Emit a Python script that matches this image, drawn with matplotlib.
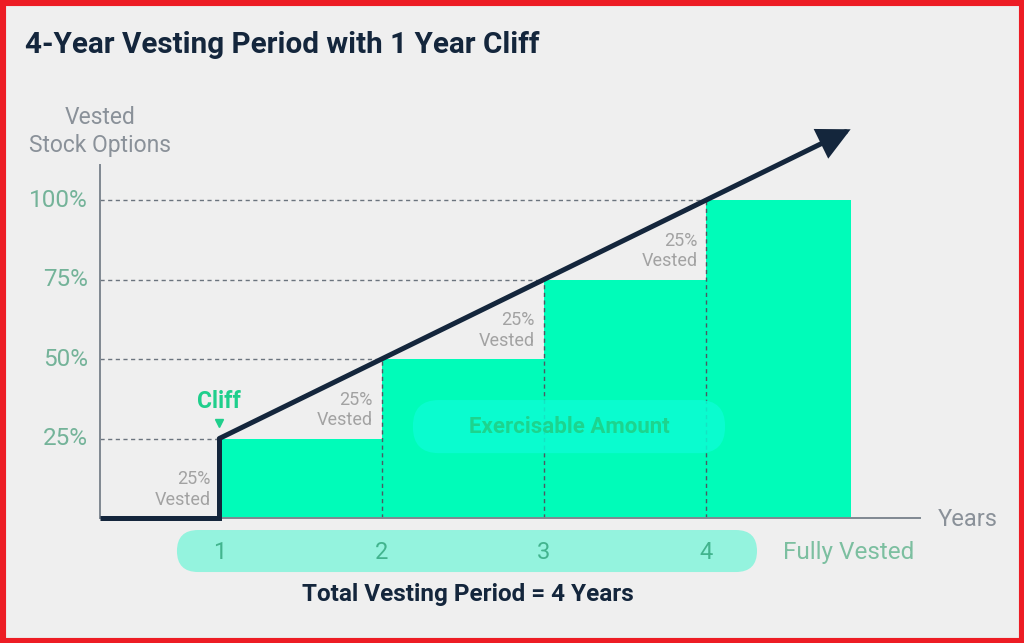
import numpy as np
import matplotlib.pyplot as plt
from matplotlib.patches import FancyBboxPatch, Rectangle

plt.rcParams['font.family'] = ['Roboto', 'DejaVu Sans']

# data
years = [1, 2, 3, 4]
vested_pct = [25, 50, 75, 100]
tick_labels = ['25%', '50%', '75%', '100%']
step_label = '25%\nVested'
chart_end = 4.89          # right edge of the last bar / arrow tip (years)
axis_start = 0.265        # where the axes begin (years)

NAVY = '#14263c'
GREEN = '#00fcb9'
BG = '#efefef'

fig = plt.figure(figsize=(10.24, 6.43), dpi=100, facecolor=BG)
ax = fig.add_axes([0, 0, 1, 1])
ax.set_facecolor(BG)
ax.set_xlim(-0.3512, 5.958)
ax.set_ylim(-39.3, 162.9)
ax.axis('off')

# px per data unit, for rounded boxes
sx = 162.3
sy = 3.18
aspect = sx / sy

# bars
edges = years + [chart_end]
widths = np.diff(edges)
ax.bar(years, vested_pct, width=widths, align='edge', color=GREEN, zorder=2)

# dashed guides
ax.hlines(vested_pct, axis_start, years, colors='#6b747e', linestyles=(0, (3, 2.5)), lw=1, zorder=3)
ax.vlines(years[1:], 0, vested_pct[1:], colors='#4d5862', linestyles=(0, (3, 2.5)), lw=1, zorder=3)

# axes lines
ax.plot([axis_start, axis_start], [0, 111], color='#7f8891', lw=1.4, zorder=3)
ax.plot([axis_start, 5.317], [0, 0], color='#7f8891', lw=1.4, zorder=3)

# y tick labels
for v, lab in zip(vested_pct, tick_labels):
    ax.text(0.19, v, lab, ha='right', va='center', fontsize=17.5, color='#74b399', zorder=5)

ax.text(axis_start, 121.6, 'Vested\nStock Options', ha='center', va='center',
        fontsize=16.5, color='#8a9199', linespacing=1.3)
ax.text(5.428, -0.6, 'Years', ha='left', va='center', fontsize=17, color='#8a9199')

# vesting line with arrow
ax.plot([axis_start, years[0], years[0]], [0, 0, vested_pct[0]], color=NAVY, lw=3.6,
        solid_joinstyle='miter', solid_capstyle='butt', zorder=6)
slope = (vested_pct[-1] - vested_pct[0]) / (years[-1] - years[0])
tip = (chart_end, vested_pct[0] + slope * (chart_end - years[0]))
ax.annotate('', xy=tip, xytext=(years[0], vested_pct[0]),
            arrowprops=dict(arrowstyle='-|>,head_length=0.6,head_width=0.3', lw=3.6,
                            color=NAVY, mutation_scale=30, shrinkA=0, shrinkB=0,
                            joinstyle='miter'),
            zorder=6)

# step labels
prev = [0] + vested_pct[:-1]
for x, p in zip(years, prev):
    ax.text(x - 0.055, p + 9, step_label, ha='right', va='center', fontsize=13,
            color='#a2a2a2', linespacing=1.2, zorder=5)

# cliff marker
ax.text(years[0], 36.8, 'Cliff', ha='center', va='center', fontsize=16.5,
        fontweight='bold', color='#1fcf8c', zorder=5)
ax.plot([years[0]], [29.9], marker='v', markersize=5.5, color='#1fcf8c', zorder=5)

# exercisable amount pill
box = FancyBboxPatch((2.193, 20.4), 4.116 - 2.193, 37.1 - 20.4,
                     boxstyle='round,pad=0,rounding_size=0.16', mutation_aspect=aspect,
                     facecolor='#0cfcd4', edgecolor='none', alpha=0.85, zorder=4)
ax.add_patch(box)
ax.text(3.155, 28.6, 'Exercisable Amount', ha='center', va='center', fontsize=16,
        fontweight='bold', color='#1dd48e', zorder=5)

# year band
band = FancyBboxPatch((0.739, -16.98), 4.313 - 0.739, 16.98 - 3.77,
                      boxstyle='round,pad=0,rounding_size=0.13', mutation_aspect=aspect,
                      facecolor='#94f3de', edgecolor='none', zorder=2)
ax.add_patch(band)
for x in years:
    ax.text(x, -10.7, str(x), ha='center', va='center', fontsize=17, color='#42b48e', zorder=5)
ax.text(4.473, -10.7, 'Fully Vested', ha='left', va='center', fontsize=17.5, color='#7cbfa0')

ax.text(2.532, -24.2, 'Total Vesting Period = 4 Years', ha='center', va='center',
        fontsize=17.5, fontweight='bold', color=NAVY)

# title
fig.text(25 / 1024, 1 - 45 / 643, '4-Year Vesting Period with 1 Year Cliff', ha='left',
         va='center', fontsize=21.3, fontweight='bold', color=NAVY)

# red frame
fig.patches.append(Rectangle((0, 0), 1, 1, transform=fig.transFigure, fill=False,
                             edgecolor='#ed1c24', lw=8))

fig.savefig('out.png', dpi=100, facecolor=BG)
